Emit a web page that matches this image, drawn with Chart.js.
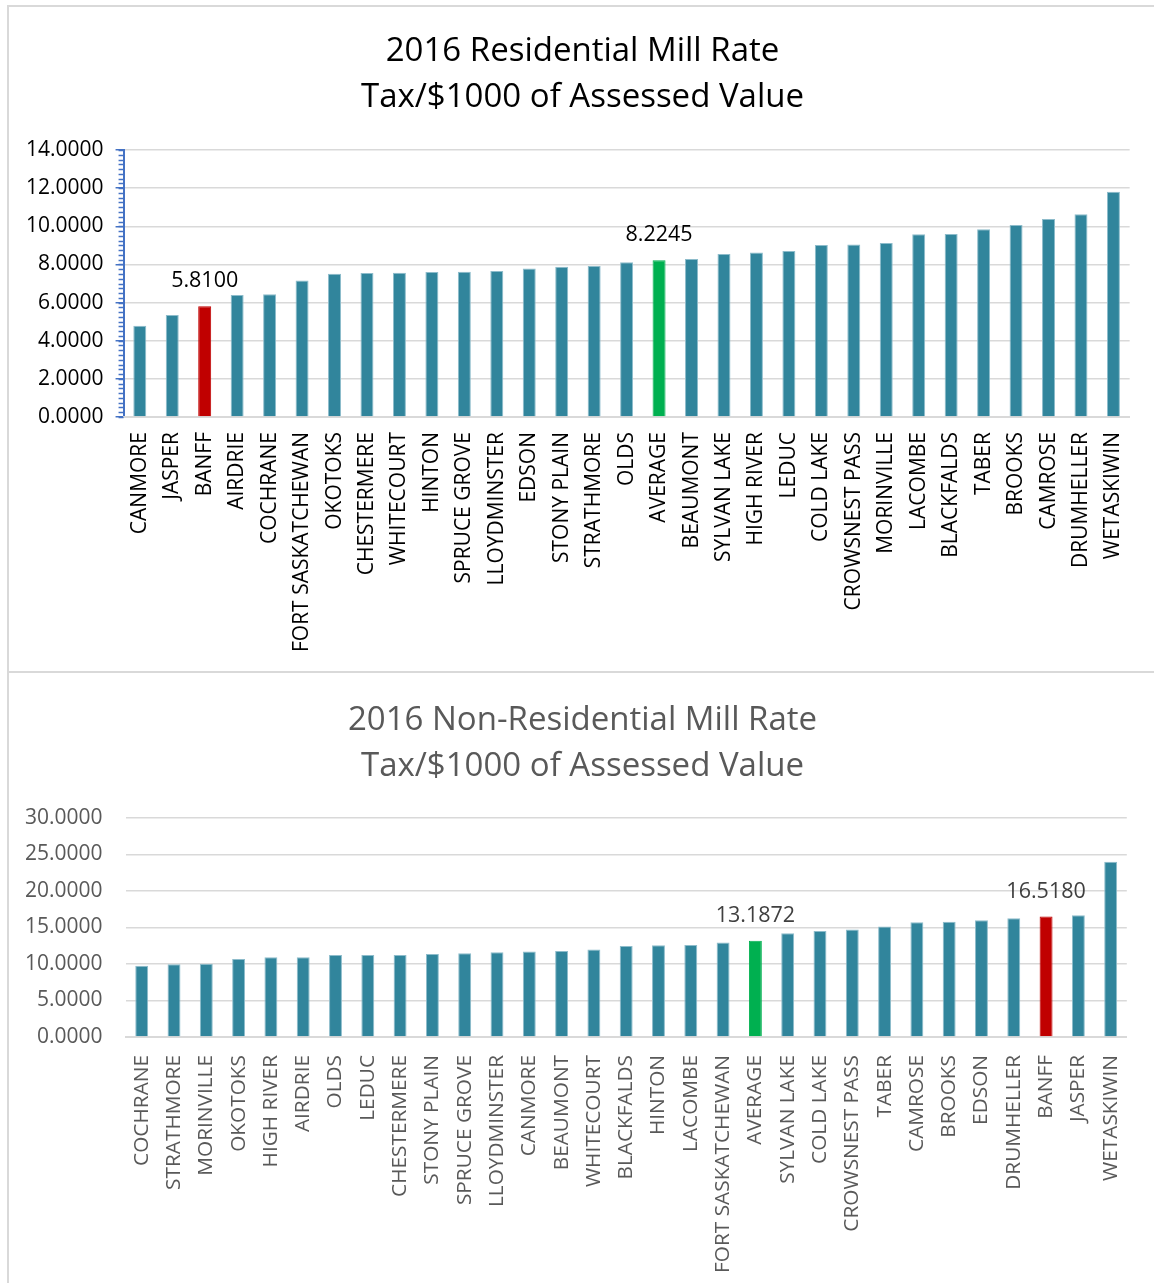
<!DOCTYPE html>
<html>
<head>
<meta charset="utf-8">
<script src="https://cdn.jsdelivr.net/npm/chart.js@4.4.1/dist/chart.umd.min.js"></script>
<style>
    html, body { margin: 0; padding: 0; background: #fff; overflow: hidden; }
    body { width: 1154px; height: 1283px; position: relative; }
    .box { position: absolute; left: 7px; width: 1160px; border: 2px solid #d9d9d9; box-sizing: border-box; background: #fff; }
    #box-res { top: 5px; height: 668px; }
    #box-nonres { top: 671px; height: 640px; }
    canvas { position: absolute; left: 2px; }
</style>
</head>
<body>
<div class="box" id="box-res"><canvas id="res-chart" width="1143" height="664" style="top:0"></canvas></div>
<div class="box" id="box-nonres"><canvas id="nonres-chart" width="1143" height="616" style="top:0"></canvas></div>
<script>
// 2016 residential mill rates (tax per $1000 of assessed value)
const resCategories = ['CANMORE', 'JASPER', 'BANFF', 'AIRDRIE', 'COCHRANE', 'FORT SASKATCHEWAN', 'OKOTOKS',
    'CHESTERMERE', 'WHITECOURT', 'HINTON', 'SPRUCE GROVE', 'LLOYDMINSTER', 'EDSON', 'STONY PLAIN', 'STRATHMORE',
    'OLDS', 'AVERAGE', 'BEAUMONT', 'SYLVAN LAKE', 'HIGH RIVER', 'LEDUC', 'COLD LAKE', 'CROWSNEST PASS',
    'MORINVILLE', 'LACOMBE', 'BLACKFALDS', 'TABER', 'BROOKS', 'CAMROSE', 'DRUMHELLER', 'WETASKIWIN'];
const resValues = [4.79, 5.35, 5.8100, 6.40, 6.43, 7.16, 7.51, 7.55, 7.56, 7.60, 7.62, 7.66, 7.78, 7.88, 7.92,
    8.11, 8.2245, 8.28, 8.55, 8.62, 8.70, 9.02, 9.05, 9.12, 9.58, 9.60, 9.84, 10.07, 10.38, 10.63, 11.81];

// 2016 non-residential mill rates
const nonResCategories = ['COCHRANE', 'STRATHMORE', 'MORINVILLE', 'OKOTOKS', 'HIGH RIVER', 'AIRDRIE', 'OLDS',
    'LEDUC', 'CHESTERMERE', 'STONY PLAIN', 'SPRUCE GROVE', 'LLOYDMINSTER', 'CANMORE', 'BEAUMONT', 'WHITECOURT',
    'BLACKFALDS', 'HINTON', 'LACOMBE', 'FORT SASKATCHEWAN', 'AVERAGE', 'SYLVAN LAKE', 'COLD LAKE',
    'CROWSNEST PASS', 'TABER', 'CAMROSE', 'BROOKS', 'EDSON', 'DRUMHELLER', 'BANFF', 'JASPER', 'WETASKIWIN'];
const nonResValues = [9.77, 9.95, 10.04, 10.70, 10.92, 10.93, 11.24, 11.24, 11.25, 11.38, 11.47, 11.60, 11.70,
    11.79, 11.97, 12.47, 12.56, 12.61, 12.93, 13.1872, 14.20, 14.53, 14.71, 15.12, 15.71, 15.80, 15.98, 16.26,
    16.5180, 16.67, 24.01];

// bars that get a colour and a value label
const hometown = 'BANFF';
const average = 'AVERAGE';

const resTicks = { min: 0, max: 14, step: 2, minor: 0.25 };
const nonResTicks = { min: 0, max: 30, step: 5 };

const TEAL = '#31859c';
const RED = '#c00000';
const GREEN = '#00b050';
const FONT = "'Open Sans', 'DejaVu Sans', sans-serif";

function barColors(categories) {
    return categories.map(c => c === hometown ? RED : (c === average ? GREEN : TEAL));
}

function borderColors(categories) {
    return categories.map(c => c === hometown ? RED : (c === average ? GREEN : '#8dbccb'));
}

// draws the value above the highlighted bars only
const valueLabels = {
    id: 'valueLabels',
    afterDatasetsDraw(chart, args, opts) {
        const ctx = chart.ctx;
        const meta = chart.getDatasetMeta(0);
        const data = chart.data.datasets[0].data;
        ctx.save();
        ctx.font = '21.5px ' + FONT;
        ctx.fillStyle = opts.color;
        ctx.textAlign = 'center';
        ctx.textBaseline = 'middle';
        chart.data.labels.forEach((label, i) => {
            if (label !== hometown && label !== average) return;
            const bar = meta.data[i];
            ctx.fillText(data[i].toFixed(4), bar.x, bar.y - 25);
        });
        ctx.restore();
    }
};

// small minor tick marks on the blue value axis
const minorTicks = {
    id: 'minorTicks',
    afterDraw(chart, args, opts) {
        if (!opts.step) return;
        const y = chart.scales.y;
        const ctx = chart.ctx;
        const x0 = chart.chartArea.left;
        ctx.save();
        ctx.strokeStyle = '#4472c4';
        ctx.lineWidth = 1.5;
        for (let v = y.min; v <= y.max + 1e-9; v += opts.step) {
            const py = Math.round(y.getPixelForValue(v)) + 0.5;
            ctx.beginPath();
            ctx.moveTo(x0 - 5, py);
            ctx.lineTo(x0, py);
            ctx.stroke();
        }
        ctx.restore();
    }
};

// two-line title centred on the whole canvas (like the Excel chart box)
const boxTitle = {
    id: 'boxTitle',
    afterDraw(chart, args, opts) {
        const ctx = chart.ctx;
        ctx.save();
        ctx.font = '33px ' + FONT;
        ctx.fillStyle = opts.color;
        ctx.textAlign = 'center';
        ctx.textBaseline = 'middle';
        opts.lines.forEach((line, i) => {
            ctx.fillText(line, chart.width / 2, opts.top + i * opts.lineGap);
        });
        ctx.restore();
    }
};

function makeChart(canvasId, categories, values, titleLines, ticks, look) {
    const ctx = document.getElementById(canvasId);
    return new Chart(ctx, {
        type: 'bar',
        data: {
            labels: categories,
            datasets: [{
                data: values,
                backgroundColor: barColors(categories),
                borderColor: borderColors(categories),
                borderWidth: 1,
                barPercentage: 0.4,
                categoryPercentage: 1.0
            }]
        },
        options: {
            responsive: false,
            animation: false,
            devicePixelRatio: 1,
            layout: {
                padding: { top: look.padTop, left: look.padLeft, right: 23, bottom: look.padBottom }
            },
            scales: {
                y: {
                    min: ticks.min,
                    max: ticks.max,
                    ticks: {
                        stepSize: ticks.step,
                        color: look.color,
                        font: { family: FONT, size: 21 },
                        padding: look.blueAxis ? 12 : 23,
                        callback: v => Number(v).toFixed(4)
                    },
                    grid: {
                        color: '#d9d9d9',
                        lineWidth: 1.5,
                        drawTicks: look.blueAxis,
                        tickLength: 8,
                        tickColor: '#4472c4',
                        tickWidth: 1.5
                    },
                    border: {
                        display: look.blueAxis,
                        color: '#4472c4',
                        width: 2
                    }
                },
                x: {
                    grid: { display: false, drawTicks: false },
                    border: { color: '#d9d9d9', width: 2 },
                    // fixed band for the long rotated names
                    afterFit: scale => { scale.height = look.xHeight; },
                    ticks: {
                        autoSkip: false,
                        maxRotation: 90,
                        minRotation: 90,
                        padding: look.xPad,
                        color: look.color,
                        font: { family: FONT, size: look.xFont }
                    }
                }
            },
            plugins: {
                legend: { display: false },
                tooltip: { enabled: false },
                title: { display: false },
                boxTitle: { lines: titleLines, color: look.color, top: look.titleTop, lineGap: 46 },
                valueLabels: { color: look.labelColor },
                minorTicks: { step: ticks.minor }
            }
        },
        plugins: [valueLabels, minorTicks, boxTitle]
    });
}

makeChart('res-chart', resCategories, resValues,
    ['2016 Residential Mill Rate', 'Tax/$1000 of Assessed Value'], resTicks,
    { color: '#000000', labelColor: '#000000', blueAxis: true, titleTop: 45,
      padTop: 143, padLeft: 3, padBottom: 19, xPad: 15, xHeight: 235, xFont: 21 });
makeChart('nonres-chart', nonResCategories, nonResValues,
    ['2016 Non-Residential Mill Rate', 'Tax/$1000 of Assessed Value'], nonResTicks,
    { color: '#595959', labelColor: '#404040', blueAxis: false, titleTop: 48,
      padTop: 145, padLeft: -9, padBottom: 16, xPad: 18, xHeight: 236, xFont: 20.8 });
</script>
</body>
</html>
